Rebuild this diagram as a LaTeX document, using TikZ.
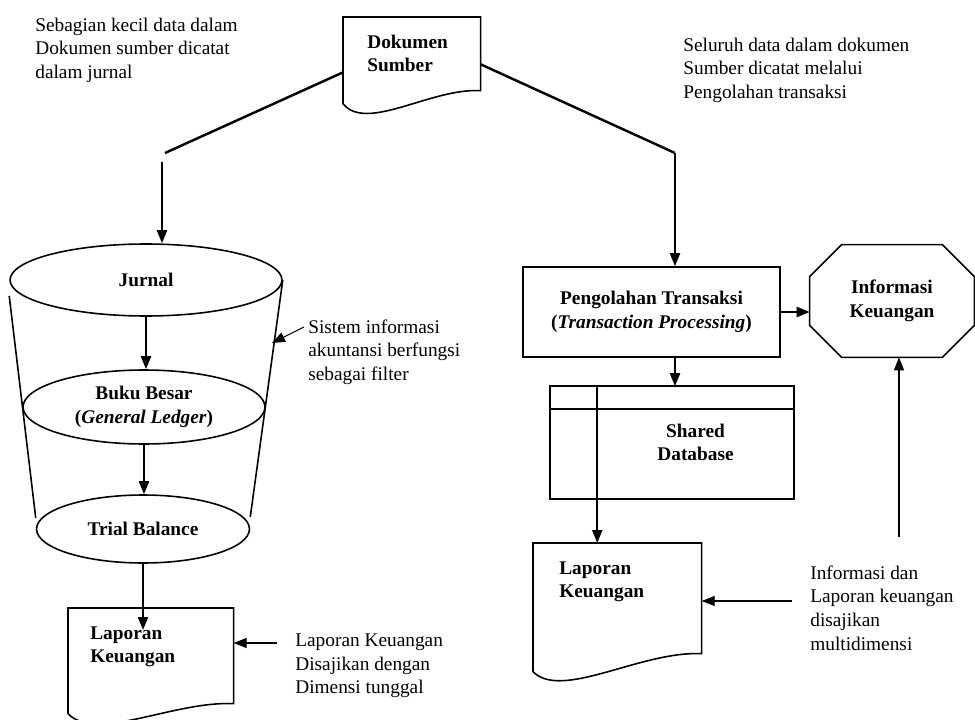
\documentclass[tikz,border=0pt]{standalone}
\usepackage{fontspec}
\setmainfont{Liberation Serif}
\usepackage{tikz}
\usetikzlibrary{arrows.meta, positioning, calc, shapes.geometric}

\newcommand{\ukuran}{\fontsize{11}{13.4}\selectfont}
% garis bawah bergelombang untuk simbol dokumen
\newcommand{\gelombang}[2]{%
  \draw[bentuk] (#1.south west) -- (#1.north west) -- (#1.north east) -- ([yshift=#2]#1.south east)
    .. controls ($(#1.south west)!0.64!(#1.south east)+(0,#2+0.06cm)$) and ($(#1.south west)!0.17!(#1.south east)+(0,-0.58cm)$) .. (#1.south west);}

\begin{document}
\begin{tikzpicture}[x=0.02cm, y=-0.02cm,
    bentuk/.style={line width=0.9pt},
    garis/.style={line width=1.4pt},
    panah/.style={line width=1.3pt, -{Triangle[length=0.26cm, width=0.2cm]}},
    panahtipis/.style={line width=0.6pt, -{Triangle[length=0.26cm, width=0.2cm]}},
    elips/.style={ellipse, draw, bentuk, fill=white, font=\ukuran\bfseries, align=center, inner sep=0pt},
    kotak/.style={rectangle, draw, bentuk, font=\ukuran\bfseries, align=center},
    dok/.style={font=\ukuran\bfseries, align=left, anchor=north west, inner ysep=0.2cm, text height=0.42cm},
    catatan/.style={font=\ukuran, align=left, inner sep=0pt, anchor=west}]
    \useasboundingbox (0,0) rectangle (975,720);

    % Dokumen sumber
    \node[dok, inner xsep=0.48cm, text width=1.78cm, text depth=0.9cm] (dokumen) at (343,17) {Dokumen\\Sumber};
    \gelombang{dokumen}{0.26cm}
    \node[catatan] (ketkiri) at (35,50) {Sebagian kecil data dalam\\Dokumen sumber dicatat\\dalam jurnal};
    \node[catatan] (ketkanan) at (683,70) {Seluruh data dalam dokumen\\Sumber dicatat melalui\\Pengolahan transaksi};

    % Sistem informasi akuntansi (corong)
    \node[elips, minimum width=5.44cm, minimum height=1.44cm] (jurnal) at (146,280) {Jurnal};
    \node[elips, minimum width=4.84cm, minimum height=1.48cm] (bukubesar) at (144,407) {Buku Besar\\(\textit{General Ledger})};
    \node[elips, minimum width=4.26cm, minimum height=1.36cm] (trial) at (143,529) {Trial Balance};
    \draw[bentuk] ([yshift=-0.32cm]jurnal.west) -- ([yshift=0.22cm]trial.west);
    \draw[bentuk] (jurnal.east) -- ([yshift=0.24cm]trial.east);

    \coordinate (belok1) at (165,153);
    \coordinate (turun1) at (162,162);
    \draw[garis] ([yshift=-0.24cm]dokumen.west) -- (belok1);
    \draw[panah] (turun1) -- (turun1 |- jurnal.north);
    \draw[panah] (jurnal.south) -- (jurnal.south |- bukubesar.north);
    \draw[panah] (bukubesar.south) -- (bukubesar.south |- trial.north);

    \node[catatan] (ketfilter) at (308,352) {Sistem informasi\\akuntansi berfungsi\\sebagai filter};
    \coordinate (corong) at (272,343);
    \draw[panahtipis] ([xshift=-0.08cm, yshift=0.5cm]ketfilter.west) -- (corong);

    % Laporan dimensi tunggal
    \node[dok, inner xsep=0.44cm, text width=2.42cm, text depth=1.28cm] (lapkiri) at (68,608) {Laporan\\Keuangan};
    \gelombang{lapkiri}{0.2cm}
    \coordinate (masuk) at ([yshift=-0.44cm]trial.south |- lapkiri.north);
    \draw[panah] (trial.south) -- (masuk);
    \node[catatan] (ketlapkiri) at (295,666) {Laporan Keuangan\\Disajikan dengan\\Dimensi tunggal};
    \coordinate (ujung1) at ([xshift=-0.36cm, yshift=0.46cm]ketlapkiri.west);
    \draw[panahtipis] (ujung1) -- (ujung1 -| lapkiri.east);

    % Pengolahan transaksi
    \coordinate (belok2) at (675,153);
    \node[kotak, minimum width=5.14cm, minimum height=1.8cm] (pengolahan) at (651.5,312) {Pengolahan Transaksi\\(\textit{Transaction Processing})};
    \draw[garis] ([yshift=-0.08cm]dokumen.east) -- (belok2);
    \draw[panah] (belok2) -- (belok2 |- pengolahan.north);

    % Informasi keuangan (segi delapan)
    \node[font=\ukuran\bfseries, align=center, minimum width=3.28cm, minimum height=2.24cm] (informasi) at (892,301) {Informasi\\Keuangan};
    \draw[bentuk] ([xshift=0.64cm]informasi.north west) -- ([xshift=-0.64cm]informasi.north east)
      -- ([yshift=-0.64cm]informasi.north east) -- ([yshift=0.64cm]informasi.south east)
      -- ([xshift=-0.64cm]informasi.south east) -- ([xshift=0.64cm]informasi.south west)
      -- ([yshift=0.64cm]informasi.south west) -- ([yshift=-0.64cm]informasi.north west) -- cycle;
    \draw[panah] (pengolahan.east) -- (pengolahan.east -| informasi.west);

    % Shared database
    \node[kotak, draw=none, minimum width=3.9cm, minimum height=2.22cm] (basisdata) at (695.5,442.5) {Shared\\Database};
    \draw[bentuk] ([xshift=-0.94cm]basisdata.north west) rectangle (basisdata.south east);
    \draw[bentuk] ([xshift=-0.94cm, yshift=-0.46cm]basisdata.north west) -- ([yshift=-0.46cm]basisdata.north east);
    \draw[bentuk] (basisdata.north west) -- (basisdata.south west);
    \draw[panah] (belok2 |- pengolahan.south) -- (belok2 |- basisdata.north);

    % Laporan multidimensi
    \node[dok, inner xsep=0.52cm, text width=2.32cm, text depth=1.74cm] (lapkanan) at (533,543) {Laporan\\Keuangan};
    \gelombang{lapkanan}{0.36cm}
    \draw[panah] (basisdata.south west) -- (basisdata.south west |- lapkanan.north);
    \node[catatan] (ketlapkanan) at (810,608) {Informasi dan\\Laporan keuangan\\disajikan\\multidimensi};
    \coordinate (ujung2) at ([xshift=-0.36cm, yshift=0.14cm]ketlapkanan.west);
    \draw[panahtipis] (ujung2) -- (ujung2 -| lapkanan.east);
    \coordinate (naik) at (899,537);
    \draw[panahtipis] (naik) -- (naik |- informasi.south);
\end{tikzpicture}
\end{document}
